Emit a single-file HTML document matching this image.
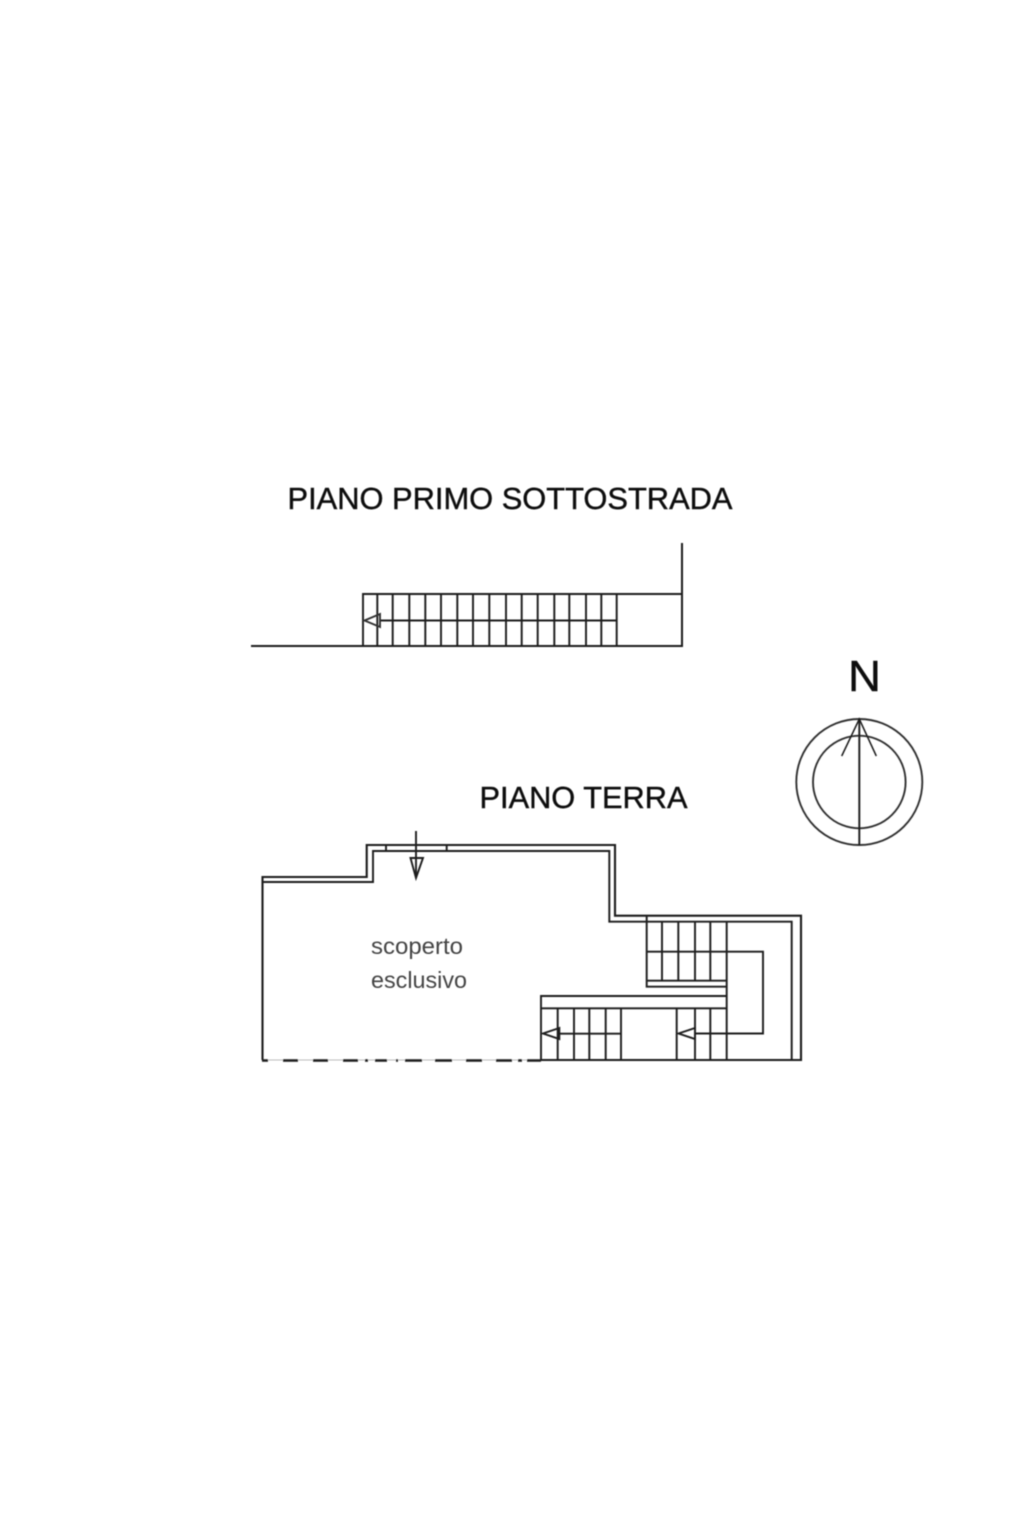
<!DOCTYPE html>
<html><head><meta charset="utf-8"><style>
html,body{margin:0;padding:0;background:#fff;width:1024px;height:1536px;overflow:hidden}
svg{display:block}
text{font-family:"Liberation Sans",sans-serif}
</style></head><body>
<svg width="1024" height="1536" viewBox="0 0 1024 1536" xmlns="http://www.w3.org/2000/svg">
<defs><filter id="b" x="-5%" y="-5%" width="110%" height="110%"><feGaussianBlur stdDeviation="0.55"/></filter></defs>
<rect width="1024" height="1536" fill="#fff"/>
<g filter="url(#b)">
<text x="287.5" y="509" font-size="30.5" fill="#111" stroke="#111" stroke-width="0.4" textLength="445" lengthAdjust="spacingAndGlyphs">PIANO PRIMO SOTTOSTRADA</text>
<text x="479.5" y="808" font-size="30.5" fill="#111" stroke="#111" stroke-width="0.4" textLength="208" lengthAdjust="spacingAndGlyphs">PIANO TERRA</text>
<text x="848" y="691" font-size="44" fill="#111" stroke="#111" stroke-width="0.4" textLength="33" lengthAdjust="spacingAndGlyphs">N</text>
<text x="371" y="954" font-size="23" fill="#444" textLength="92" lengthAdjust="spacingAndGlyphs">scoperto</text>
<text x="371" y="988" font-size="23" fill="#444" textLength="96" lengthAdjust="spacingAndGlyphs">esclusivo</text>

<g fill="none" stroke="#1c1c1c" stroke-width="1.9">
<!-- top stair -->
<path d="M682 543V646H251" stroke-width="2"/>
<path d="M682 594H363V646"/>
<path d="M617 620.5H380"/>
<path d="M377.3 594V646M392.7 594V646M409.3 594V646M425.3 594V646M441 594V646M457.3 594V646M473 594V646M489.3 594V646M506 594V646M521.7 594V646M537.7 594V646M554.3 594V646M569.3 594V646M586 594V646M601.3 594V646M616.7 594V646"/>
<path d="M380 614L364.5 620.5L380 627Z" stroke="#333"/>

<!-- ground floor walls -->
<path d="M262.5 1060V877H366.7V845H615V915.7H801V1060H541" stroke-width="2.1"/>
<path d="M262.5 882H373V851H609.3V921.7H791.7V1060"/>
<path d="M386 845V851M446.7 845V851"/>
<path d="M416 831V878"/>
<path d="M410.5 858H423L416 878Z"/>

<!-- stairs -->
<path d="M646.7 916V986.7H726.7"/>
<path d="M647 980.7H726.7"/>
<path d="M662 922V981M678.3 922V981M695 922V981M710.3 922V981M726.7 922V1060"/>
<path d="M647 951.7H763V1033.5H695"/>
<path d="M541 1060V996H727"/>
<path d="M541 1008.3H727"/>
<path d="M557.7 1008V1060M574 1008V1060M589.3 1008V1060M605.7 1008V1060M621 1008V1060M676.7 1008V1060M695 1008V1060M710.3 1008V1060"/>
<path d="M559 1033.7H621"/>
<path d="M559.3 1028L543 1033.5L559.3 1039Z"/>
<path d="M695 1028L678.5 1033.5L695 1039Z"/>

<!-- dashed bottom -->
<path d="M262 1060H541" stroke="#bbb" stroke-width="1"/>
<path d="M262 1060.5H268M283 1060.5H298M313 1060.5H328M343 1060.5H358M365 1060.5H368M375 1060.5H387M396 1060.5H398M405 1060.5H422M435 1060.5H452M466 1060.5H482M496 1060.5H512M518 1060.5H522M527 1060.5H541" stroke-width="2.4"/>

<!-- north -->
<circle cx="859.3" cy="782" r="63" stroke="#333"/>
<circle cx="859.3" cy="782" r="46.3" stroke="#333"/>
<path d="M859.3 719V845"/>
<path d="M841.7 756L859.3 719L876.3 756" stroke-width="1.5"/>
</g>
</g>
</svg>
</body></html>
